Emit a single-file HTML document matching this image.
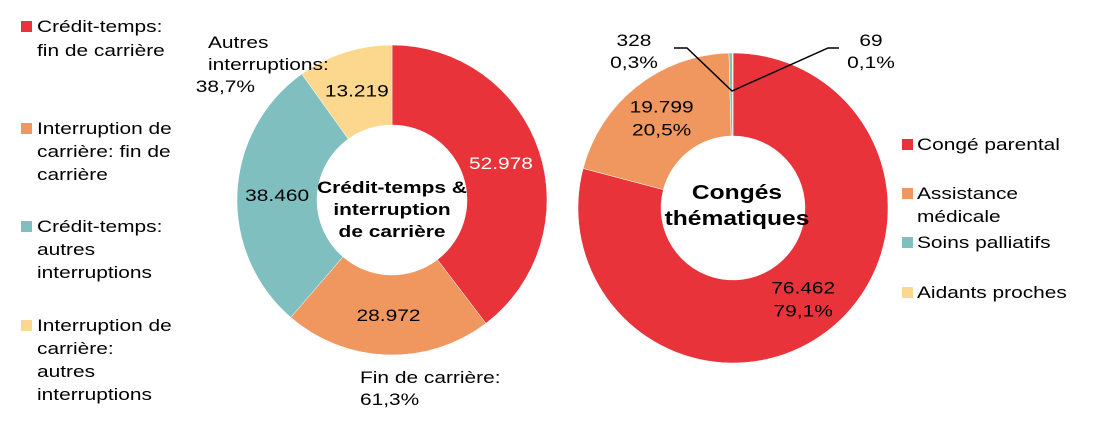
<!DOCTYPE html>
<html><head><meta charset="utf-8">
<style>
body{margin:0;background:#fff;width:1108px;height:440px;overflow:hidden;font-family:"Liberation Sans",Arial,sans-serif}
svg text{font-family:"Liberation Sans",Arial,sans-serif;font-size:17px;fill:#000}
</style></head>
<body>
<svg id="chart" width="1108" height="440">
<g id="g1"></g>
<g id="g2"></g>
<g>
<rect x="21" y="21" width="11" height="11" fill="#E8333A"/>
<text x="37" y="32"><tspan x="37">Crédit-temps:</tspan><tspan x="37" dy="24">fin de carrière</tspan></text>
<rect x="21" y="123" width="11" height="11" fill="#F0975F"/>
<text x="37" y="134"><tspan x="37">Interruption de</tspan><tspan x="37" dy="23">carrière: fin de</tspan><tspan x="37" dy="23">carrière</tspan></text>
<rect x="21" y="221" width="11" height="11" fill="#7FBFBF"/>
<text x="37" y="232"><tspan x="37">Crédit-temps:</tspan><tspan x="37" dy="23">autres</tspan><tspan x="37" dy="23">interruptions</tspan></text>
<rect x="21" y="320" width="11" height="11" fill="#FCD88E"/>
<text x="37" y="331"><tspan x="37">Interruption de</tspan><tspan x="37" dy="23">carrière:</tspan><tspan x="37" dy="23">autres</tspan><tspan x="37" dy="23">interruptions</tspan></text>
</g>
<g>
<rect x="902" y="139" width="11" height="11" fill="#E8333A"/>
<text x="917" y="150">Congé parental</text>
<rect x="902" y="188" width="11" height="11" fill="#F0975F"/>
<text x="917" y="199"><tspan x="917">Assistance</tspan><tspan x="917" dy="23">médicale</tspan></text>
<rect x="902" y="237" width="11" height="11" fill="#7FBFBF"/>
<text x="917" y="248">Soins palliatifs</text>
<rect x="902" y="287" width="11" height="11" fill="#FCD88E"/>
<text x="917" y="298">Aidants proches</text>
</g>
<text x="208" y="48"><tspan x="208">Autres</tspan><tspan x="208" dy="22">interruptions:</tspan><tspan x="198" dy="22">38,7%</tspan></text>
<text x="360" y="383"><tspan x="360">Fin de carrière:</tspan><tspan x="360" dy="22">61,3%</tspan></text>
<text x="392" y="193" text-anchor="middle" style="font-weight:bold;font-size:17px"><tspan x="392">Crédit-temps &amp;</tspan><tspan x="392" dy="22">interruption</tspan><tspan x="392" dy="22">de carrière</tspan></text>
<text x="737" y="199" text-anchor="middle" style="font-weight:bold;font-size:20px"><tspan x="737">Congés</tspan><tspan x="737" dy="26">thématiques</tspan></text>
<polyline points="674,48 687,48 732,91 828,48 839,48" fill="none" stroke="#000" stroke-width="1.5"/>
<text x="634" y="46" text-anchor="middle"><tspan x="634">328</tspan><tspan x="634" dy="22">0,3%</tspan></text>
<text x="871" y="46" text-anchor="middle"><tspan x="871">69</tspan><tspan x="871" dy="22">0,1%</tspan></text>
</svg>
<script>
const leftCats=["Crédit-temps: fin de carrière","Interruption de carrière: fin de carrière","Crédit-temps: autres interruptions","Interruption de carrière: autres interruptions"];
const leftValues=[52978,28972,38460,13219];
const leftLabels=["52.978","28.972","38.460","13.219"];
const rightCats=["Congé parental","Assistance médicale","Soins palliatifs","Aidants proches"];
const rightValues=[76462,19799,328,69];
const rightLabels=[["76.462","79,1%"],["19.799","20,5%"],null,null];
const colors=["#E8333A","#F0975F","#7FBFBF","#FCD88E"];
const NS="http://www.w3.org/2000/svg";
function pt(cx,cy,r,a){return [cx+r*Math.sin(a),cy-r*Math.cos(a)];}
function donut(g,cx,cy,R,r,vals,labels,lr,textColors){
  const tot=vals.reduce((a,b)=>a+b,0);let a0=0;
  vals.forEach((v,i)=>{
    const a1=a0+v/tot*2*Math.PI;const lg=(a1-a0)>Math.PI?1:0;
    const p1=pt(cx,cy,R,a0),p2=pt(cx,cy,R,a1),p3=pt(cx,cy,r,a1),p4=pt(cx,cy,r,a0);
    const p=document.createElementNS(NS,"path");
    p.setAttribute("d",`M${p1}A${R},${R} 0 ${lg} 1 ${p2}L${p3}A${r},${r} 0 ${lg} 0 ${p4}Z`);
    p.setAttribute("fill",colors[i]);p.setAttribute("stroke","#fff");p.setAttribute("stroke-width","0.5");
    
    
    g.appendChild(p);
    const L=labels[i];
    if(L){const m=(a0+a1)/2;const c=pt(cx,cy,lr,m);const lines=Array.isArray(L)?L:[L];
      const t=document.createElementNS(NS,"text");t.setAttribute("text-anchor","middle");
      
      
      t.setAttribute("x",c[0]);
      t.style.fill=textColors[i];
      lines.forEach((s,j)=>{const ts=document.createElementNS(NS,"tspan");ts.setAttribute("x",c[0]);
        ts.setAttribute("y",c[1]+6+(j-(lines.length-1)/2)*23);ts.textContent=s;t.appendChild(ts);});
      g.appendChild(t);}
    a0=a1;});
}
donut(document.getElementById("g1"),392,200,155,75,leftValues,leftLabels,115,["#fff","#000","#000","#000"]);
donut(document.getElementById("g2"),733,208,155,72,rightValues,rightLabels,115,["#000","#000","#000","#000"]);
const SX=1.23;
document.querySelectorAll("svg text").forEach(t=>{
  const x=parseFloat(t.getAttribute("x")||t.querySelector("tspan").getAttribute("x"));
  t.setAttribute("transform",`translate(${x},0) scale(${SX},1) translate(${-x},0)`);
});
</script>
</body></html>
